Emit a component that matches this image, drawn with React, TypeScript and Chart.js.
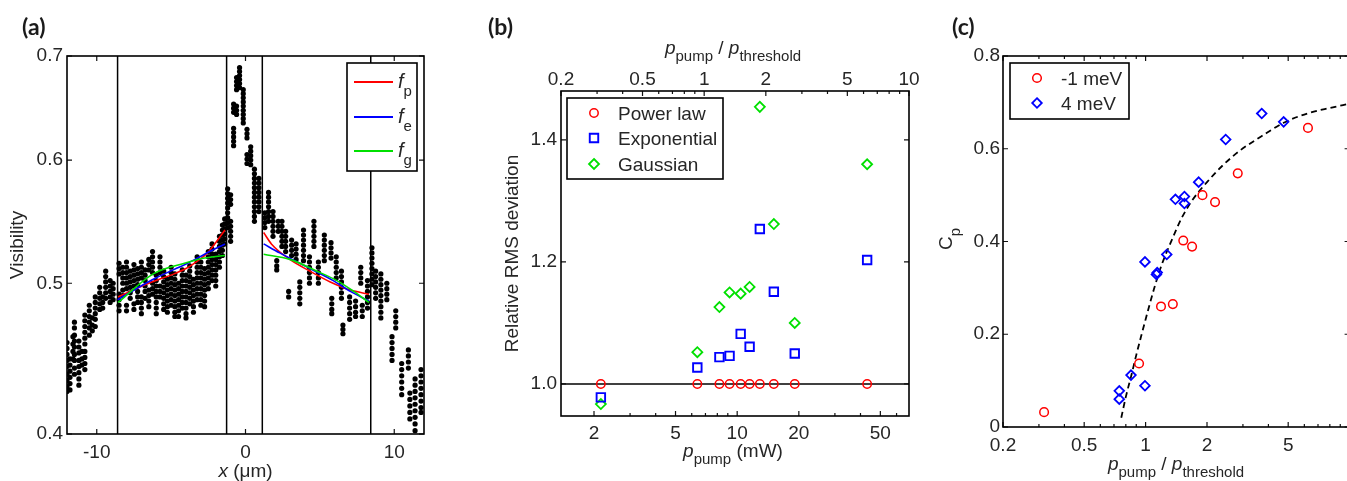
import React, { useEffect, useRef } from 'react';
import { Chart, registerables } from 'chart.js';

Chart.register(...registerables);

const FONT = '"Liberation Sans", Arial, Helvetica, sans-serif';
const PANEL_FONT = 'Lato, "Open Sans", sans-serif';
const TXT = '#262626';
const RED = '#ff0000';
const BLUE = '#0000ff';
const GREEN = '#00e000';

// ---------- Panel (a): visibility profile ----------
const aXMin = -12;
const aXMax = 12;
const aYMin = 0.4;
const aYMax = 0.7;
const aXTicks = [-10, 0, 10];
const aYTicks = [0.4, 0.5, 0.6, 0.7];
const aBoundaryX = [-8.6, -1.27, 1.13, 8.42];

const visColX = [
  -12.0, -11.8, -11.6, -11.5, -11.2, -11.0, -10.8, -10.5, -10.3, -10.1, -9.8, -9.6, -9.4, -9.1, -8.9,
  -8.5, -8.25, -8.0, -7.75, -7.5, -7.25, -7.0, -6.75, -6.5, -6.25, -6.0, -5.75, -5.5, -5.25, -5.0,
  -4.75, -4.5, -4.25, -4.0, -3.75, -3.5, -3.25, -3.0, -2.75, -2.5, -2.25, -2.0, -1.75, -1.55, -1.4,
  -1.2, -1.0, -0.8, -0.6, -0.4, -0.15, 0.1, 0.35, 0.6, 0.9,
  1.3, 1.55, 1.85, 2.1, 2.2, 2.45, 2.7, 2.9, 3.1, 3.4, 3.65, 3.9, 4.3, 4.6, 4.9, 5.3, 5.75, 5.8,
  6.1, 6.45, 6.55, 7.0, 7.4, 7.75, 7.85, 8.2,
  8.5, 8.75, 9.1, 9.5, 9.85, 10.1, 10.5, 10.95, 11.05, 11.4, 11.8,
];
const visColY = [
  [0.458, 0.454, 0.45, 0.446, 0.442, 0.437, 0.433, 0.429, 0.426],
  [0.447, 0.443, 0.439, 0.435, 0.431, 0.427],
  [0.462, 0.457, 0.452, 0.447],
  [0.472, 0.468, 0.463, 0.459, 0.455, 0.45, 0.446, 0.441, 0.437],
  [0.459, 0.455, 0.451, 0.446, 0.442, 0.438, 0.434, 0.43],
  [0.452, 0.447, 0.443],
  [0.477, 0.473, 0.469, 0.465, 0.461, 0.457, 0.452, 0.448, 0.444, 0.44],
  [0.484, 0.48, 0.476, 0.472, 0.468, 0.463],
  [0.475, 0.47, 0.466],
  [0.49, 0.486, 0.482, 0.478, 0.474, 0.469],
  [0.497, 0.493, 0.489, 0.485, 0.481],
  [0.49, 0.486, 0.482],
  [0.509, 0.505, 0.501, 0.497, 0.493, 0.489],
  [0.502, 0.498, 0.494, 0.49, 0.486],
  [0.5, 0.496, 0.492, 0.488],
  [0.515, 0.511, 0.507, 0.492, 0.488, 0.484, 0.48],
  [0.512, 0.508, 0.504, 0.5, 0.495, 0.491],
  [0.516, 0.512, 0.508, 0.504, 0.5, 0.496, 0.484, 0.48],
  [0.509, 0.505, 0.501, 0.497, 0.493, 0.489],
  [0.514, 0.51, 0.506, 0.502, 0.498, 0.485, 0.481],
  [0.511, 0.507, 0.503, 0.499, 0.494, 0.49, 0.486],
  [0.516, 0.512, 0.508, 0.504, 0.49, 0.486, 0.482, 0.478],
  [0.51, 0.506, 0.502, 0.498, 0.494, 0.489],
  [0.518, 0.514, 0.51, 0.495, 0.491, 0.487, 0.483],
  [0.524, 0.52, 0.516, 0.512, 0.508, 0.5, 0.496, 0.492],
  [0.506, 0.502, 0.498, 0.494, 0.49, 0.486, 0.482, 0.478],
  [0.52, 0.516, 0.512, 0.508, 0.498, 0.494, 0.49],
  [0.509, 0.505, 0.501, 0.497, 0.493, 0.489, 0.485, 0.481],
  [0.503, 0.499, 0.495, 0.491, 0.487, 0.483, 0.479],
  [0.512, 0.508, 0.504, 0.5, 0.496, 0.492, 0.488, 0.484],
  [0.507, 0.503, 0.499, 0.495, 0.491, 0.487, 0.483, 0.479, 0.476],
  [0.5, 0.496, 0.492, 0.488, 0.484, 0.48, 0.476],
  [0.51, 0.506, 0.502, 0.498, 0.494, 0.49, 0.486, 0.482],
  [0.506, 0.502, 0.498, 0.494, 0.49, 0.486, 0.482, 0.478, 0.475],
  [0.513, 0.509, 0.505, 0.501, 0.497, 0.493, 0.489, 0.485],
  [0.503, 0.499, 0.495, 0.491, 0.487, 0.483, 0.479],
  [0.52, 0.516, 0.512, 0.508, 0.504, 0.5, 0.496, 0.492, 0.488],
  [0.516, 0.512, 0.508, 0.504, 0.5, 0.496, 0.492, 0.488, 0.484],
  [0.511, 0.507, 0.503, 0.499, 0.495, 0.491, 0.487, 0.483],
  [0.524, 0.52, 0.516, 0.512, 0.508, 0.504, 0.5, 0.496],
  [0.53, 0.526, 0.522, 0.518, 0.514, 0.51, 0.506, 0.502],
  [0.522, 0.518, 0.514, 0.51, 0.506, 0.502, 0.498],
  [0.536, 0.532, 0.528, 0.524, 0.52, 0.516, 0.512],
  [0.545, 0.541, 0.537, 0.533, 0.529, 0.525, 0.521],
  [0.55, 0.546, 0.542, 0.538, 0.534, 0.53],
  [0.575, 0.571, 0.567, 0.563, 0.559, 0.555, 0.551, 0.547, 0.543],
  [0.57, 0.566, 0.562, 0.548, 0.544, 0.54, 0.536, 0.532],
  [0.652, 0.648, 0.644, 0.629, 0.625, 0.621, 0.617, 0.613],
  [0.678, 0.674, 0.67, 0.666, 0.65, 0.646, 0.642],
  [0.688, 0.684, 0.68, 0.676, 0.672, 0.668],
  [0.666, 0.662, 0.658, 0.654, 0.65, 0.646, 0.642, 0.638, 0.634],
  [0.628, 0.624, 0.62, 0.605, 0.601, 0.597],
  [0.612, 0.608, 0.604, 0.6, 0.596],
  [0.592, 0.588, 0.584, 0.58, 0.576, 0.572, 0.568, 0.564, 0.56, 0.556, 0.552, 0.548],
  [0.584, 0.58, 0.576, 0.572, 0.568, 0.564, 0.56, 0.556],
  [0.555, 0.551, 0.547, 0.543],
  [0.572, 0.568, 0.564, 0.56, 0.556, 0.552, 0.548],
  [0.556, 0.552, 0.548, 0.544, 0.54, 0.536],
  [0.517, 0.513, 0.51],
  [0.548, 0.544, 0.54],
  [0.548, 0.544, 0.54, 0.536, 0.532, 0.528],
  [0.54, 0.536, 0.532, 0.528, 0.524],
  [0.494, 0.49],
  [0.533, 0.529, 0.525, 0.521],
  [0.53, 0.526, 0.522, 0.518],
  [0.501, 0.497, 0.493, 0.489, 0.485],
  [0.541, 0.537, 0.533, 0.529, 0.525, 0.521, 0.517],
  [0.52, 0.516, 0.512, 0.508, 0.504, 0.5],
  [0.548, 0.544, 0.54, 0.536, 0.532, 0.528],
  [0.516, 0.512, 0.508, 0.504, 0.5],
  [0.537, 0.533, 0.529, 0.525, 0.521, 0.517],
  [0.531, 0.527, 0.523, 0.519],
  [0.489, 0.485, 0.481, 0.478],
  [0.52, 0.516, 0.512, 0.508, 0.504],
  [0.509, 0.505, 0.501, 0.497, 0.493, 0.489],
  [0.47, 0.467, 0.464],
  [0.49, 0.486, 0.482, 0.478, 0.474],
  [0.487, 0.483, 0.479, 0.476],
  [0.512, 0.508, 0.504, 0.5],
  [0.484, 0.48, 0.476],
  [0.502, 0.498, 0.494, 0.49, 0.486, 0.482],
  [0.527, 0.523, 0.519, 0.515, 0.511, 0.507, 0.503, 0.499],
  [0.509, 0.505, 0.501, 0.497, 0.493, 0.489],
  [0.507, 0.503, 0.499, 0.495, 0.491, 0.487, 0.483, 0.479, 0.475],
  [0.5, 0.496, 0.492, 0.488],
  [0.462, 0.458, 0.454, 0.45, 0.446],
  [0.48, 0.476, 0.472, 0.468],
  [0.444, 0.44, 0.436, 0.432, 0.428, 0.424],
  [0.453, 0.449, 0.445, 0.441],
  [0.425, 0.421, 0.417, 0.413, 0.409],
  [0.434, 0.43, 0.426, 0.422, 0.418, 0.414, 0.41, 0.406, 0.402],
  [0.44, 0.436, 0.432, 0.428, 0.424, 0.42, 0.416, 0.413],
];

const fpLeftX = [-8.57, -6.5, -4.8, -4.0, -3.45, -2.65, -2.2, -1.75, -1.38];
const fpLeftY = [0.49, 0.5, 0.507, 0.511, 0.515, 0.522, 0.528, 0.535, 0.541];
const feLeftX = [-8.6, -6.2, -3.9, -2.75, -1.38];
const feLeftY = [0.488, 0.503, 0.515, 0.522, 0.53];
const fgLeftX = [-8.57, -6.2, -4.1, -2.75, -1.38];
const fgLeftY = [0.486, 0.507, 0.515, 0.519, 0.521];
const fpRightX = [1.22, 1.74, 2.98, 4.34, 5.7, 7.05, 8.3];
const fpRightY = [0.539, 0.53, 0.518, 0.509, 0.501, 0.495, 0.492];
const feRightX = [1.22, 2.3, 4.34, 5.9, 7.05, 8.3];
const feRightY = [0.53, 0.523, 0.511, 0.502, 0.494, 0.487];
const fgRightX = [1.22, 2.98, 4.8, 6.15, 7.28, 8.3];
const fgRightY = [0.522, 0.518, 0.509, 0.502, 0.494, 0.486];

// ---------- Panel (b): relative RMS deviation ----------
const bXMin = 1.38;
const bXMax = 69;
const bTopMin = 0.2;
const bTopMax = 10;
const bYMin = 0.9475;
const bYMax = 1.48;
const bRefLevel = 1.0;
const bXTickVals = [2, 3, 4, 5, 6, 7, 8, 9, 10, 20, 30, 40, 50, 60];
const bXLabels = [2, 5, 10, 20, 50];
const bTopTickVals = [0.2, 0.3, 0.4, 0.5, 0.6, 0.7, 0.8, 0.9, 1, 2, 3, 4, 5, 6, 7, 8, 9, 10];
const bTopLabels = [0.2, 0.5, 1, 2, 5, 10];
const bYTicks = [1.0, 1.2, 1.4];
const bPumpMW = [2.16, 6.39, 8.19, 9.18, 10.4, 11.5, 12.9, 15.1, 19.1, 43.1];
const bPowerLaw = [1, 1, 1, 1, 1, 1, 1, 1, 1, 1];
const bExponential = [0.978, 1.027, 1.044, 1.046, 1.082, 1.061, 1.254, 1.151, 1.05, 1.203];
const bGaussian = [0.967, 1.052, 1.126, 1.15, 1.148, 1.159, 1.454, 1.262, 1.1, 1.36];
const bLegend = ['Power law', 'Exponential', 'Gaussian'];

// ---------- Panel (c): C_p vs pump ratio ----------
const cXMin = 0.2;
const cXMax = 10;
const cYMin = 0;
const cYMax = 0.8;
const cXTickVals = [0.2, 0.3, 0.4, 0.5, 0.6, 0.7, 0.8, 0.9, 1, 2, 3, 4, 5, 6, 7, 8, 9, 10];
const cXLabels = [0.2, 0.5, 1, 2, 5];
const cYTicks = [0, 0.2, 0.4, 0.6, 0.8];
const cRedX = [0.318, 0.929, 1.19, 1.36, 1.53, 1.69, 1.9, 2.19, 2.83, 6.25];
const cRedY = [0.032, 0.137, 0.26, 0.265, 0.402, 0.389, 0.5, 0.485, 0.547, 0.645];
const cBlueX = [0.743, 0.743, 0.848, 0.993, 0.993, 1.13, 1.14, 1.27, 1.4, 1.55, 1.55, 1.82, 2.47, 3.71, 4.75];
const cBlueY = [0.078, 0.06, 0.112, 0.089, 0.356, 0.329, 0.333, 0.372, 0.491, 0.497, 0.482, 0.528, 0.62, 0.676, 0.658];
const cFitX = [0.76, 0.8, 0.85, 0.9, 0.95, 1.0, 1.1, 1.2, 1.35, 1.5, 1.7, 2.0, 2.4, 2.9, 3.7, 4.75, 6.2, 8.0, 10];
const cFitY = [0.02, 0.065, 0.11, 0.155, 0.195, 0.232, 0.298, 0.35, 0.405, 0.45, 0.49, 0.528, 0.565, 0.596, 0.627, 0.656, 0.676, 0.688, 0.697];
const cLegend = ['-1 meV', '4 meV'];

// ---------- helpers ----------
const pts = (xs: number[], ys: number[]) => xs.map((x, i) => ({ x, y: ys[i] }));
const tickFont = { family: FONT, size: 19 };

const setTicks = (vals: number[]) => (s: any) => {
  s.ticks = vals.map((v) => ({ value: v }));
};
const fixSize = (dim: 'width' | 'height', size: number) => (s: any) => {
  s[dim] = size;
  s.paddingLeft = 0;
  s.paddingRight = 0;
  s.paddingTop = 0;
  s.paddingBottom = 0;
};
const fmt = (labels: number[] | null, digits?: number) => (v: any) => {
  const n = Number(v);
  if (labels && !labels.some((l) => Math.abs(l - n) < 1e-9)) return '';
  return digits !== undefined ? n.toFixed(digits) : String(n);
};

type Seg = { t: string; i?: boolean; s?: boolean };
function richText(
  ctx: CanvasRenderingContext2D,
  segs: Seg[],
  x: number,
  y: number,
  o: { size?: number; sub?: number; dy?: number; align?: 'left' | 'center'; rot?: boolean; baseline?: CanvasTextBaseline }
) {
  const size = o.size ?? 19;
  const sub = o.sub ?? 15;
  const dy = o.dy ?? 7;
  ctx.save();
  ctx.fillStyle = TXT;
  ctx.textAlign = 'left';
  ctx.textBaseline = o.baseline ?? 'alphabetic';
  const fontOf = (s: Seg) => `${s.i ? 'italic ' : ''}${s.s ? sub : size}px ${FONT}`;
  let w = 0;
  for (const s of segs) {
    ctx.font = fontOf(s);
    w += ctx.measureText(s.t).width;
  }
  ctx.translate(x, y);
  if (o.rot) ctx.rotate(-Math.PI / 2);
  let cx = o.align === 'left' ? 0 : -w / 2;
  for (const s of segs) {
    ctx.font = fontOf(s);
    ctx.fillText(s.t, cx, s.s ? dy : 0);
    cx += ctx.measureText(s.t).width;
  }
  ctx.restore();
}

function drawFrame(chart: any, xId: string, yId: string, topId?: string) {
  const { ctx, chartArea: a } = chart;
  const xs = chart.scales[xId];
  const ys = chart.scales[yId];
  const xt = topId ? chart.scales[topId] : xs;
  ctx.save();
  ctx.strokeStyle = '#111';
  ctx.lineWidth = 1.2;
  ctx.beginPath();
  const inX = (p: number) => p >= a.left - 0.5 && p <= a.right + 0.5;
  const inY = (p: number) => p >= a.top - 0.5 && p <= a.bottom + 0.5;
  for (const t of xs.ticks) {
    const p = xs.getPixelForValue(t.value);
    if (!inX(p)) continue;
    const L = t.label ? 5 : 3;
    ctx.moveTo(p, a.bottom);
    ctx.lineTo(p, a.bottom - L);
  }
  for (const t of xt.ticks) {
    const p = xt.getPixelForValue(t.value);
    if (!inX(p)) continue;
    const L = t.label ? 5 : 3;
    ctx.moveTo(p, a.top);
    ctx.lineTo(p, a.top + L);
  }
  for (const t of ys.ticks) {
    const p = ys.getPixelForValue(t.value);
    if (!inY(p)) continue;
    ctx.moveTo(a.left, p);
    ctx.lineTo(a.left + 5, p);
    ctx.moveTo(a.right, p);
    ctx.lineTo(a.right - 5, p);
  }
  ctx.stroke();
  ctx.lineWidth = 1.6;
  ctx.strokeStyle = '#000';
  ctx.strokeRect(a.left, a.top, a.right - a.left, a.bottom - a.top);
  ctx.restore();
}

function panelLabel(ctx: CanvasRenderingContext2D, text: string, x: number, y: number) {
  ctx.save();
  ctx.fillStyle = '#1a1a1a';
  ctx.font = `bold 23px ${PANEL_FONT}`;
  ctx.textBaseline = 'alphabetic';
  ctx.fillText(text, x, y);
  ctx.restore();
}

function marker(ctx: CanvasRenderingContext2D, style: string, x: number, y: number, r: number, color: string, lw: number) {
  ctx.save();
  ctx.strokeStyle = color;
  ctx.lineWidth = lw;
  ctx.beginPath();
  if (style === 'circle') ctx.arc(x, y, r, 0, Math.PI * 2);
  else if (style === 'rect') {
    const h = r * Math.SQRT1_2;
    ctx.rect(x - h, y - h, 2 * h, 2 * h);
  } else {
    ctx.moveTo(x, y - r);
    ctx.lineTo(x + r, y);
    ctx.lineTo(x, y + r);
    ctx.lineTo(x - r, y);
    ctx.closePath();
  }
  ctx.stroke();
  ctx.restore();
}

function legendBox(ctx: CanvasRenderingContext2D, x: number, y: number, w: number, h: number) {
  ctx.save();
  ctx.fillStyle = '#fff';
  ctx.fillRect(x, y, w, h);
  ctx.strokeStyle = '#000';
  ctx.lineWidth = 1.6;
  ctx.strokeRect(x, y, w, h);
  ctx.restore();
}

const lineDs = (data: any[], color: string, width = 1.6, extra: any = {}) => ({
  data,
  showLine: true,
  borderColor: color,
  borderWidth: width,
  pointRadius: 0,
  pointHoverRadius: 0,
  fill: false,
  ...extra,
});

// ---------- configs ----------
function configA(): any {
  const dots = visColX.flatMap((x, i) => visColY[i].map((y) => ({ x, y })));
  const fit = (xs: number[], ys: number[], c: string) =>
    lineDs(pts(xs, ys), c, 1.6, { cubicInterpolationMode: 'monotone' });
  return {
    type: 'scatter',
    data: {
      datasets: [
        fit(fgLeftX, fgLeftY, GREEN),
        fit(fgRightX, fgRightY, GREEN),
        fit(feLeftX, feLeftY, BLUE),
        fit(feRightX, feRightY, BLUE),
        fit(fpLeftX, fpLeftY, RED),
        fit(fpRightX, fpRightY, RED),
        ...aBoundaryX.map((x) => lineDs([{ x, y: aYMin }, { x, y: aYMax }], '#000', 1.5)),
        {
          data: dots,
          pointRadius: 2.6,
          pointHoverRadius: 2.6,
          pointBorderWidth: 0,
          backgroundColor: '#000',
          borderColor: '#000',
        },
      ],
    },
    options: {
      responsive: false,
      animation: false,
      events: [],
      layout: { padding: { left: 0, right: 26, top: 56, bottom: 0 } },
      plugins: { legend: { display: false }, tooltip: { enabled: false } },
      scales: {
        x: {
          type: 'linear',
          min: aXMin,
          max: aXMax,
          afterBuildTicks: setTicks(aXTicks),
          afterFit: fixSize('height', 47),
          grid: { display: false, drawTicks: false },
          border: { display: false },
          ticks: { font: tickFont, color: TXT, padding: 7, autoSkip: false, maxRotation: 0, callback: fmt(null) },
        },
        y: {
          type: 'logarithmic',
          min: aYMin,
          max: aYMax,
          afterBuildTicks: setTicks(aYTicks),
          afterFit: fixSize('width', 67),
          grid: { display: false, drawTicks: false },
          border: { display: false },
          ticks: { font: tickFont, color: TXT, padding: 4, autoSkip: false, callback: fmt(null, 1) },
        },
      },
    },
    plugins: [
      {
        id: 'decorA',
        afterDraw(chart: any) {
          const ctx = chart.ctx;
          drawFrame(chart, 'x', 'y');
          richText(ctx, [{ t: 'Visibility' }], 23, 245, { rot: true });
          richText(ctx, [{ t: 'x', i: true }, { t: ' (μm)' }], 245.5, 477, {});
          panelLabel(ctx, '(a)', 22, 35);
          legendBox(ctx, 347, 63, 70, 108);
          const rows: [string, string, number][] = [
            [RED, 'p', 82],
            [BLUE, 'e', 117],
            [GREEN, 'g', 151],
          ];
          for (const [c, s, y] of rows) {
            ctx.save();
            ctx.strokeStyle = c;
            ctx.lineWidth = 1.8;
            ctx.beginPath();
            ctx.moveTo(354, y);
            ctx.lineTo(393, y);
            ctx.stroke();
            ctx.restore();
            richText(ctx, [{ t: 'f', i: true }, { t: s, s: true }], 398, y + 6, { align: 'left', size: 20, sub: 15, dy: 8 });
          }
        },
      },
    ],
  };
}

function configB(): any {
  const mk = (ys: number[], style: string, color: string, r: number, lw: number) => ({
    data: pts(bPumpMW, ys),
    pointStyle: style,
    pointRadius: r,
    pointHoverRadius: r,
    pointBorderWidth: lw,
    borderColor: color,
    backgroundColor: 'rgba(0,0,0,0)',
  });
  return {
    type: 'scatter',
    data: {
      datasets: [
        mk(bPowerLaw, 'circle', RED, 4.2, 1.5),
        mk(bExponential, 'rect', BLUE, 6.0, 1.9),
        mk(bGaussian, 'rectRot', GREEN, 5.0, 1.8),
        lineDs([{ x: bXMin, y: bRefLevel }, { x: bXMax, y: bRefLevel }], '#000', 1.6),
      ],
    },
    options: {
      responsive: false,
      animation: false,
      events: [],
      layout: { padding: { left: 0, right: 11, top: 0, bottom: 0 } },
      plugins: { legend: { display: false }, tooltip: { enabled: false } },
      scales: {
        x: {
          type: 'logarithmic',
          position: 'bottom',
          min: bXMin,
          max: bXMax,
          afterBuildTicks: setTicks(bXTickVals),
          afterFit: fixSize('height', 65),
          grid: { display: false, drawTicks: false },
          border: { display: false },
          ticks: { font: tickFont, color: TXT, padding: 6, autoSkip: false, maxRotation: 0, callback: fmt(bXLabels) },
        },
        xTop: {
          type: 'logarithmic',
          axis: 'x',
          position: 'top',
          min: bTopMin,
          max: bTopMax,
          afterBuildTicks: setTicks(bTopTickVals),
          afterFit: fixSize('height', 91),
          grid: { display: false, drawTicks: false },
          border: { display: false },
          ticks: { font: tickFont, color: TXT, padding: 0, autoSkip: false, maxRotation: 0, callback: fmt(bTopLabels) },
        },
        y: {
          type: 'linear',
          min: bYMin,
          max: bYMax,
          afterBuildTicks: setTicks(bYTicks),
          afterFit: fixSize('width', 111),
          grid: { display: false, drawTicks: false },
          border: { display: false },
          ticks: { font: tickFont, color: TXT, padding: 4, autoSkip: false, callback: fmt(null, 1) },
        },
      },
    },
    plugins: [
      {
        id: 'decorB',
        afterDraw(chart: any) {
          const ctx = chart.ctx;
          drawFrame(chart, 'x', 'y', 'xTop');
          richText(ctx, [{ t: 'Relative RMS deviation' }], 67.5, 253.5, { rot: true });
          richText(ctx, [{ t: 'p', i: true }, { t: 'pump', s: true }, { t: ' (mW)' }], 283, 457, {});
          richText(
            ctx,
            [{ t: 'p', i: true }, { t: 'pump', s: true }, { t: ' / ' }, { t: 'p', i: true }, { t: 'threshold', s: true }],
            283,
            54,
            {}
          );
          panelLabel(ctx, '(b)', 38, 35);
          legendBox(ctx, 117, 98, 156, 81);
          const rows: [string, string, number, number, number][] = [
            ['circle', RED, 4.2, 1.5, 113],
            ['rect', BLUE, 6.0, 1.9, 138],
            ['rectRot', GREEN, 5.0, 1.8, 164],
          ];
          rows.forEach(([st, c, r, lw, y], i) => {
            marker(ctx, st, 144, y, r, c, lw);
            richText(ctx, [{ t: bLegend[i] }], 168, y + 7, { align: 'left' });
          });
        },
      },
    ],
  };
}

function configC(): any {
  return {
    type: 'scatter',
    data: {
      datasets: [
        {
          data: pts(cRedX, cRedY),
          pointStyle: 'circle',
          pointRadius: 4.3,
          pointHoverRadius: 4.3,
          pointBorderWidth: 1.5,
          borderColor: RED,
          backgroundColor: 'rgba(0,0,0,0)',
        },
        {
          data: pts(cBlueX, cBlueY),
          pointStyle: 'rectRot',
          pointRadius: 4.8,
          pointHoverRadius: 4.8,
          pointBorderWidth: 1.8,
          borderColor: BLUE,
          backgroundColor: 'rgba(0,0,0,0)',
        },
        lineDs(pts(cFitX, cFitY), '#000', 1.8, { borderDash: [6, 4], cubicInterpolationMode: 'monotone' }),
      ],
    },
    options: {
      responsive: false,
      animation: false,
      events: [],
      layout: { padding: { left: 0, right: 10.4, top: 56, bottom: 0 } },
      plugins: { legend: { display: false }, tooltip: { enabled: false } },
      scales: {
        x: {
          type: 'logarithmic',
          min: cXMin,
          max: cXMax,
          afterBuildTicks: setTicks(cXTickVals),
          afterFit: fixSize('height', 54),
          grid: { display: false, drawTicks: false },
          border: { display: false },
          ticks: { font: tickFont, color: TXT, padding: 7, autoSkip: false, maxRotation: 0, callback: fmt(cXLabels) },
        },
        y: {
          type: 'linear',
          min: cYMin,
          max: cYMax,
          afterBuildTicks: setTicks(cYTicks),
          afterFit: fixSize('width', 83),
          grid: { display: false, drawTicks: false },
          border: { display: false },
          ticks: { font: tickFont, color: TXT, padding: 3, autoSkip: false, callback: fmt(null) },
        },
      },
    },
    plugins: [
      {
        id: 'decorC',
        afterDraw(chart: any) {
          const ctx = chart.ctx;
          drawFrame(chart, 'x', 'y');
          richText(ctx, [{ t: 'C' }, { t: 'p', s: true }], 32, 239, { rot: true, dy: 8 });
          richText(
            ctx,
            [{ t: 'p', i: true }, { t: 'pump', s: true }, { t: ' / ' }, { t: 'p', i: true }, { t: 'threshold', s: true }],
            256,
            470,
            {}
          );
          panelLabel(ctx, '(c)', 32, 35);
          legendBox(ctx, 90, 63, 119, 56);
          marker(ctx, 'circle', 117, 78, 4.3, RED, 1.5);
          marker(ctx, 'rectRot', 117, 103, 4.8, BLUE, 1.8);
          richText(ctx, [{ t: cLegend[0] }], 141, 85, { align: 'left' });
          richText(ctx, [{ t: cLegend[1] }], 141, 110, { align: 'left' });
        },
      },
    ],
  };
}

export default function App() {
  const ra = useRef<HTMLCanvasElement>(null);
  const rb = useRef<HTMLCanvasElement>(null);
  const rc = useRef<HTMLCanvasElement>(null);
  useEffect(() => {
    const charts = [
      new Chart(ra.current as HTMLCanvasElement, configA()),
      new Chart(rb.current as HTMLCanvasElement, configB()),
      new Chart(rc.current as HTMLCanvasElement, configC()),
    ];
    return () => charts.forEach((c) => c.destroy());
  }, []);
  return (
    <div
      style={{
        position: 'fixed',
        left: 0,
        top: 0,
        width: 1347,
        height: 481,
        overflow: 'hidden',
        background: '#fff',
      }}
    >
      <canvas ref={ra} width={450} height={481} style={{ position: 'absolute', left: 0, top: 0 }} />
      <canvas ref={rb} width={470} height={481} style={{ position: 'absolute', left: 450, top: 0 }} />
      <canvas ref={rc} width={440} height={481} style={{ position: 'absolute', left: 920, top: 0 }} />
    </div>
  );
}
